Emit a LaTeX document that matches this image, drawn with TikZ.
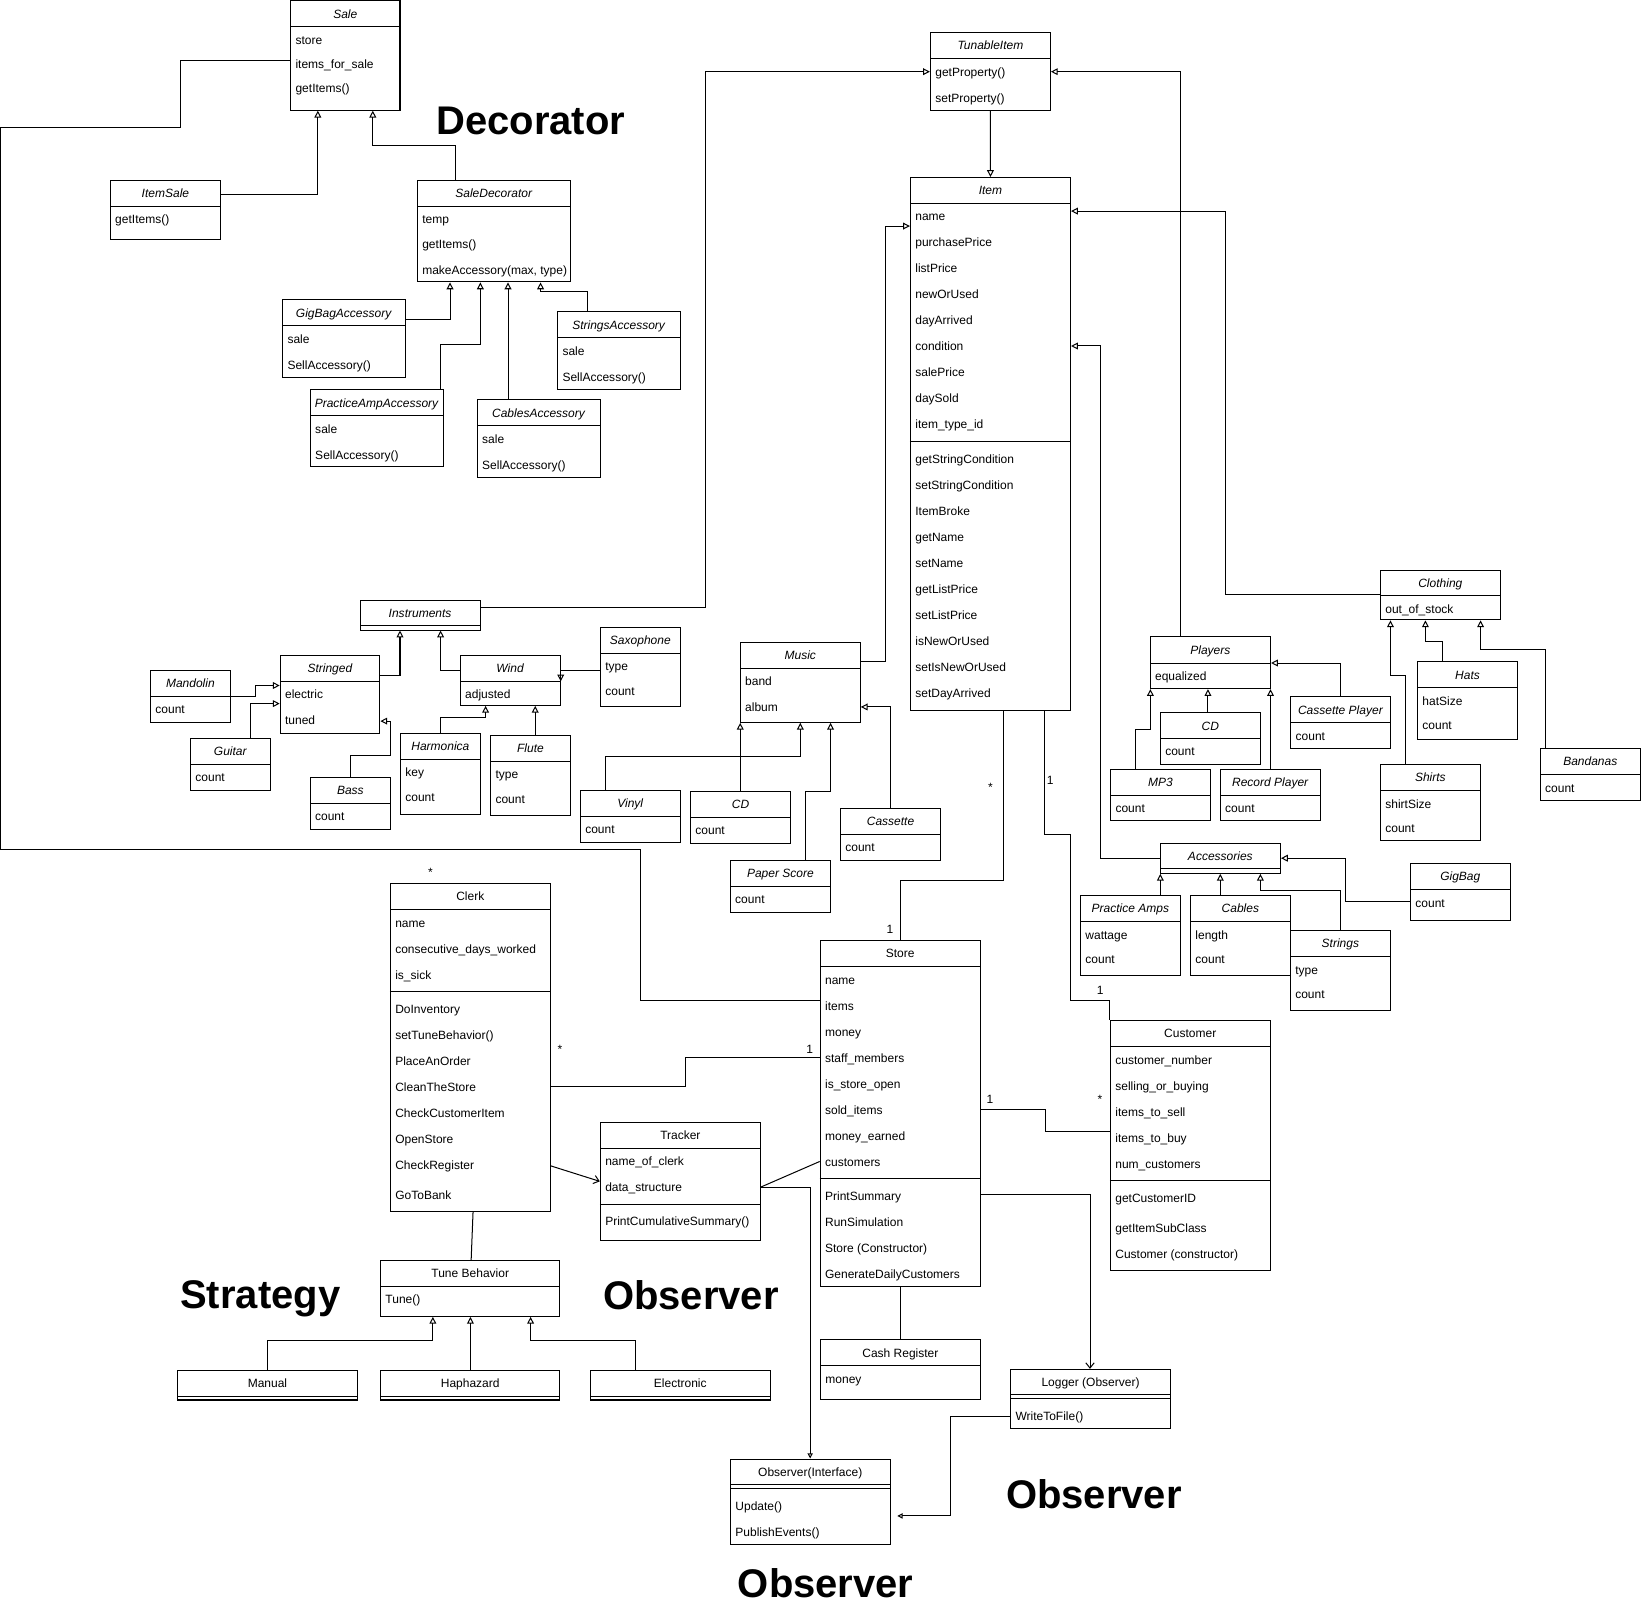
\documentclass[tikz,border=0pt]{standalone}
\usepackage{fontspec}
\setmainfont{Liberation Sans}
\usetikzlibrary{arrows.meta,fit}

% class box: name, x1, y1, x2, y2, header line y, title
\newcommand\cls[7]{%
  \node[cbox, fit={(#2,#3) (#4,#5)}] (#1) {};
  \draw[wire] (#2,#6) -- (#4,#6);
  \node[ctitle] at ({(#2+#4)/2},{(#3+#6)/2+4.4}) {#7};
}
% one member row: box name, row centre y, text
\newcommand\rw[3]{\node[crow, xshift=5pt] at (#1.west |- 0,#2+4.4) {#3};}
% compartment separator
\newcommand\sepl[2]{\draw[wire] (#1.west |- 0,#2) -- (#1.east |- 0,#2);}

\begin{document}
\begin{tikzpicture}[x=1pt,y=-1pt,
  wire/.style={line width=0.96pt},
  cbox/.style={draw, line width=0.96pt, fill=white, inner sep=0pt},
  ctitle/.style={anchor=base, inner sep=0pt, font=\fontsize{11.47pt}{13pt}\selectfont},
  crow/.style={anchor=base west, inner sep=0pt, font=\fontsize{11.47pt}{13pt}\selectfont},
  lbl/.style={anchor=base, inner sep=0pt, font=\fontsize{11.47pt}{13pt}\selectfont},
  pname/.style={anchor=base, inner sep=0pt, font=\fontsize{38.2pt}{40pt}\selectfont\bfseries},
  gen/.style={wire, -{Triangle[open,length=6.5pt,width=6.5pt]}},
  gensmall/.style={wire, -{Triangle[open,length=5pt,width=5pt]}},
  dep/.style={wire, -{Straight Barb[length=5pt,width=8pt]}},
]
\fill[white] (0,0) rectangle (1568,1539.3);
\useasboundingbox (0,0) rectangle (1568,1539.3);

% ---------------- Decorator ----------------
\cls{sale}{277.7}{0.7}{382.2}{105.3}{25.2}{\textit{Sale}}
\rw{sale}{37.8}{store}
\rw{sale}{61}{items\_for\_sale}
\rw{sale}{83.8}{getItems()}

\cls{itemsale}{105.4}{172}{210.7}{229.2}{196.9}{\textit{ItemSale}}
\rw{itemsale}{209.5}{getItems()}

\cls{saledec}{398.8}{172}{545.1}{269.4}{196.9}{\textit{SaleDecorator}}
\rw{saledec}{209.5}{temp}
\rw{saledec}{232.7}{getItems()}
\rw{saledec}{257.5}{makeAccessory(max, type)}

\cls{gigacc}{270}{286.5}{387.3}{360.7}{311}{\textit{GigBagAccessory}}
\rw{gigacc}{324}{sale}
\rw{gigacc}{348.8}{SellAccessory()}

\cls{stracc}{532.8}{298}{650}{372}{322.6}{\textit{StringsAccessory}}
\rw{stracc}{335.5}{sale}
\rw{stracc}{360}{SellAccessory()}

\cls{ampacc}{296.5}{372.3}{423.6}{446.2}{396.8}{\textit{PracticeAmpAccessory}}
\rw{ampacc}{409.8}{sale}
\rw{ampacc}{434.7}{SellAccessory()}

\cls{cabacc}{456}{381.8}{573.7}{455.8}{406.4}{\textit{CablesAccessory}}
\rw{cabacc}{419.3}{sale}
\rw{cabacc}{444.2}{SellAccessory()}

% ---------------- Items ----------------
\cls{tun}{889}{31}{1003.7}{105.5}{55.6}{\textit{TunableItem}}
\rw{tun}{68.6}{getProperty()}
\rw{tun}{93.2}{setProperty()}

\cls{itm}{869.9}{169.6}{1022.9}{678.7}{194.2}{\textit{Item}}
\foreach \t [count=\i from 0] in {name,purchasePrice,listPrice,newOrUsed,dayArrived,condition,salePrice,daySold,item\_type\_id}
  {\rw{itm}{206.6+24.85*\i}{\t}}
\sepl{itm}{421.8}
\foreach \t [count=\i from 0] in {getStringCondition,setStringCondition,ItemBroke,getName,setName,getListPrice,setListPrice,isNewOrUsed,setIsNewOrUsed,setDayArrived}
  {\rw{itm}{438.3+24.85*\i}{\t}}

% Instruments
\cls{instr}{344}{573.6}{458.8}{602}{598}{\textit{Instruments}}
\cls{stringed}{267.7}{626}{363}{700.7}{651}{\textit{Stringed}}
\rw{stringed}{663.4}{electric}
\rw{stringed}{688.2}{tuned}
\cls{mand}{143.8}{640.5}{220}{690}{665.3}{\textit{Mandolin}}
\rw{mand}{677.7}{count}
\cls{guitar}{182}{705.5}{258.5}{755}{730.3}{\textit{Guitar}}
\rw{guitar}{742.7}{count}
\cls{bass}{296.4}{742.7}{373.2}{792.4}{767.5}{\textit{Bass}}
\rw{bass}{779.9}{count}
\cls{wind}{439.8}{626}{535.3}{674}{651}{\textit{Wind}}
\rw{wind}{663.4}{adjusted}
\cls{sax}{573.7}{599.4}{650}{675.5}{624.3}{\textit{Saxophone}}
\rw{sax}{636.7}{type}
\rw{sax}{660.5}{count}
\cls{harm}{382.6}{700.7}{459}{778}{725.5}{\textit{Harmonica}}
\rw{harm}{737.9}{key}
\rw{harm}{761.5}{count}
\cls{flute}{468.8}{702.6}{545}{779}{727.4}{\textit{Flute}}
\rw{flute}{739.8}{type}
\rw{flute}{763.4}{count}

% Music
\cls{music}{707.3}{613.7}{822}{690.2}{638.6}{\textit{Music}}
\rw{music}{651}{band}
\rw{music}{675.8}{album}
\cls{vinyl}{554.5}{755}{650.2}{804.8}{780}{\textit{Vinyl}}
\rw{vinyl}{792.4}{count}
\cls{cdm}{659.8}{756}{755.6}{805.8}{781}{\textit{CD}}
\rw{cdm}{793.3}{count}
\cls{cass}{803}{772.3}{898.9}{822}{797.2}{\textit{Cassette}}
\rw{cass}{809.6}{count}
\cls{paper}{697.8}{822}{793.6}{871.7}{846.9}{\textit{Paper Score}}
\rw{paper}{859.3}{count}

% Players
\cls{players}{1099}{608.6}{1214}{658}{633.5}{\textit{Players}}
\rw{players}{645.9}{equalized}
\cls{cdp}{1108.7}{680.8}{1204.4}{730.4}{705.5}{\textit{CD}}
\rw{cdp}{717.9}{count}
\cls{mp3}{1061.2}{735.1}{1156.5}{784.4}{760}{\textit{MP3}}
\rw{mp3}{772.4}{count}
\cls{recp}{1166}{735.1}{1261.7}{784.4}{760}{\textit{Record Player}}
\rw{recp}{772.4}{count}
\cls{casp}{1233.3}{665.8}{1328.6}{715}{690.6}{\textit{Cassette Player}}
\rw{casp}{703}{count}

% Clothing
\cls{cloth}{1319}{544.7}{1433.5}{592.3}{569.2}{\textit{Clothing}}
\rw{cloth}{581.6}{out\_of\_stock}
\cls{hats}{1354.4}{632.5}{1450}{706.6}{656.9}{\textit{Hats}}
\rw{hats}{669.8}{hatSize}
\rw{hats}{692.6}{count}
\cls{shirts}{1319}{730.4}{1414.4}{802.8}{755.2}{\textit{Shirts}}
\rw{shirts}{767.8}{shirtSize}
\rw{shirts}{790.6}{count}
\cls{band}{1471.7}{715}{1567.4}{764.8}{739.9}{\textit{Bandanas}}
\rw{band}{752.4}{count}

% Accessories
\cls{acc}{1108.6}{805.5}{1223.5}{834.5}{830}{\textit{Accessories}}
\cls{pamps}{1032.4}{855.5}{1127.7}{931.9}{880.3}{\textit{Practice Amps}}
\rw{pamps}{893.4}{wattage}
\rw{pamps}{916}{count}
\cls{cables}{1137.5}{855.5}{1232.9}{931.9}{880.3}{\textit{Cables}}
\rw{cables}{893.4}{length}
\rw{cables}{916}{count}
\cls{strings}{1232.9}{888.9}{1328.5}{965.3}{913.7}{\textit{Strings}}
\rw{strings}{926.8}{type}
\rw{strings}{949.4}{count}
\cls{gigbag}{1347.7}{824.9}{1443}{879.4}{849.7}{\textit{GigBag}}
\rw{gigbag}{862.5}{count}

% ---------------- Store side ----------------
\cls{clerk}{373}{843.9}{525.8}{1157.5}{868.8}{Clerk}
\rw{clerk}{881.8}{name}
\rw{clerk}{906.3}{consecutive\_days\_worked}
\rw{clerk}{931.2}{is\_sick}
\sepl{clerk}{947.3}
\foreach \t [count=\i from 0] in {DoInventory,setTuneBehavior(),PlaceAnOrder,CleanTheStore,CheckCustomerItem,OpenStore,CheckRegister}
  {\rw{clerk}{963.7+24.85*\i}{\t}}
\rw{clerk}{1141.4}{GoToBank}

\cls{store}{783.7}{898.5}{936.6}{1229.5}{923.3}{Store}
\foreach \t [count=\i from 0] in {name,items,money,staff\_members,is\_store\_open,sold\_items,money\_earned,customers}
  {\rw{store}{936+24.85*\i}{\t}}
\sepl{store}{1126.4}
\foreach \t [count=\i from 0] in {PrintSummary,RunSimulation,Store (Constructor),GenerateDailyCustomers}
  {\rw{store}{1143+24.85*\i}{\t}}

\cls{tracker}{573.6}{1072.5}{726.6}{1185}{1097}{Tracker}
\rw{tracker}{1109.7}{name\_of\_clerk}
\rw{tracker}{1134.5}{data\_structure}
\sepl{tracker}{1150.7}
\rw{tracker}{1166.9}{PrintCumulativeSummary()}

\cls{tune}{363.6}{1204.3}{535}{1257.8}{1229}{Tune Behavior}
\rw{tune}{1241.4}{Tune()}
\cls{manual}{169.6}{1309.4}{341.5}{1337.7}{1333.9}{Manual}
\cls{hap}{363.6}{1309.4}{535}{1337.7}{1333.9}{Haphazard}
\cls{elec}{564}{1309.4}{736}{1337.7}{1333.9}{Electronic}

\cls{cash}{784}{1280}{936.6}{1337}{1304.6}{Cash Register}
\rw{cash}{1317.3}{money}

\cls{logger}{965.6}{1308.4}{1118.5}{1365.3}{1332.9}{Logger (Observer)}
\sepl{logger}{1336.7}
\rw{logger}{1353.2}{WriteToFile()}

\cls{obs}{698}{1394.1}{850.4}{1475.7}{1418.6}{Observer(Interface)}
\sepl{obs}{1422.4}
\rw{obs}{1439}{Update()}
\rw{obs}{1463.7}{PublishEvents()}

\cls{cust}{1061}{974.9}{1213.6}{1213.5}{999.7}{Customer}
\foreach \t [count=\i from 0] in {customer\_number,selling\_or\_buying,items\_to\_sell,items\_to\_buy,num\_customers}
  {\rw{cust}{1012.5+24.85*\i}{\t}}
\sepl{cust}{1127.5}
\rw{cust}{1144.3}{getCustomerID}
\rw{cust}{1173}{getItemSubClass}
\rw{cust}{1197.8}{Customer (constructor)}

% ---------------- connectors ----------------
% decorator
\draw[wire] (sale.west |- 0,57.6) -| (172.3,122) -| (0.6,812) -| (612,956) -- (store.west |- 0,956);
\draw[gen] (itemsale.east |- 0,186.3) -| (sale.south -| 303.7,0);
\draw[gen] (saledec.north -| 435.5,0) |- (356.2,138.6) -- (sale.south -| 356.2,0);
\draw[gen] (gigacc.east |- 0,304.9) -| (saledec.south -| 430,0);
\draw[gen] (ampacc.north -| 421,0) |- (459,329.4) -- (saledec.south -| 459,0);
\draw[gen] (cabacc.north -| 485.4,0) -- (saledec.south -| 485.4,0);
\draw[gen] (stracc.north -| 561.8,0) |- (516.5,279) -- (saledec.south -| 516.5,0);

% item hierarchy
\draw[gen] (tun.south) -- (itm.north);
\draw[gen] (instr.east |- 0,580.6) -| (674,68.5) -- (tun.west |- 0,68.5);
\draw[gen] (players.north -| 1127.5,0) |- (tun.east |- 0,68.5);
\draw[gen] (music.east |- 0,632.5) -| (846,216) -- (itm.west |- 0,216);
\draw[gen] (cloth.west |- 0,568.5) -| (1170.8,201.7) -- (itm.east |- 0,201.7);
\draw[gen] (acc.west |- 0,820) -| (1051.6,330.6) -- (itm.east |- 0,330.6);

\draw[gen] (shirts.north -| 1342.8,0) |- (1328.6,645.3) -- (cloth.south -| 1328.6,0);
\draw[gen] (hats.north -| 1378,0) |- (1362,612.7) -- (cloth.south -| 1362,0);
\draw[gen] (band.north -| 1476.7,0) |- (1414.7,620.9) -- (cloth.south -| 1414.7,0);

\draw[gen] (mp3.north -| 1084.6,0) |- (1099.2,696.6) -- (players.south -| 1099.2,0);
\draw[gen] (cdp.north -| 1154.2,0) -- (players.south -| 1154.2,0);
\draw[gen] (recp.north -| 1214,0) -- (players.south -| 1214,0);
\draw[gen] (casp.north -| 1280.8,0) |- (players.east |- 0,633.5);

\draw[gen] (pamps.north -| 1108.7,0) -- (acc.south -| 1108.7,0);
\draw[gen] (cables.north -| 1166,0) -- (acc.south -| 1166,0);
\draw[gen] (strings.north -| 1280.4,0) |- (1204.3,850.4) -- (acc.south -| 1204.3,0);
\draw[gen] (gigbag.west |- 0,861.2) -| (1285.6,820) -- (acc.east |- 0,820);

\draw[gen] (stringed.east |- 0,645) -| (instr.south -| 382.2,0);
\draw[gen] (wind.west |- 0,640.5) -| (instr.south -| 421,0);
\draw[gen] (mand.east |- 0,665.3) -| (244,655) -- (stringed.west |- 0,655);
\draw[gen] (guitar.north -| 239.3,0) |- (stringed.west |- 0,672.3);
\draw[gen] (bass.north -| 334.8,0) |- (373.2,722) |- (stringed.east |- 0,689);
\draw[gen] (sax.west |- 0,640.5) -| (wind.east |- 0,651);
\draw[gen] (harm.north -| 421,0) |- (464,685.4) -- (wind.south -| 464,0);
\draw[gen] (flute.north -| 511.4,0) -- (wind.south -| 511.4,0);

\draw[gen] (vinyl.north -| 578.6,0) |- (764.7,723) -- (music.south -| 764.7,0);
\draw[gen] (cdm.north -| 707.3,0) -- (music.south -| 707.3,0);
\draw[gen] (paper.north -| 769.5,0) |- (793.6,756) -- (music.south -| 793.6,0);
\draw[gen] (cass.north -| 850.7,0) |- (music.east |- 0,675.5);

% associations
\draw[wire] (itm.south -| 959,0) |- (860.5,841) -- (store.north -| 860.5,0);
\draw[wire] (itm.south -| 998,0) |- (1022.6,797) |- (1060.6,955.8) -- (cust.north -| 1060.6,0);
\draw[wire] (clerk.south -| 452,0) -- (tune.north -| 450.2,0);
\draw[gen] (manual.north -| 255.3,0) |- (413.6,1280.7) -- (tune.south -| 413.6,0);
\draw[gen] (hap.north -| 449.5,0) -- (tune.south -| 449.5,0);
\draw[gen] (elec.north -| 607.2,0) |- (507,1280.7) -- (tune.south -| 507,0);
\draw[wire] (clerk.east |- 0,1038) -| (655,1010.4) -- (store.west |- 0,1010.4);
\draw[dep] (clerk.east |- 0,1114) -- (tracker.west |- 0,1128.8);
\draw[wire] (store.west |- 0,1109.8) -- (tracker.east |- 0,1134.2);
\draw[gensmall] (tracker.east |- 0,1134.2) -| (obs.north -| 774.1,0);
\draw[wire] (store.south -| 860.3,0) -- (cash.north -| 860.3,0);
\draw[dep] (store.east |- 0,1141.8) -| (logger.north -| 1041.5,0);
\coordinate (obsend) at (857.4,1448.5);
\draw[gensmall] (logger.west |- 0,1353.2) -| (908,1448.5) -- (obsend);
\draw[wire] (store.east |- 0,1060.2) -| (998.7,1080.8) -- (cust.west |- 0,1080.8);

% multiplicities
\node[lbl] at (946.4,756.6) {*};
\node[lbl] at (1003.4,749.4) {1};
\node[lbl] at (850.3,892.1) {1};
\node[lbl] at (1051.2,950.1) {1};
\node[lbl] at (1051,1054.6) {*};
\node[lbl] at (946,1054.1) {1};
\node[lbl] at (411.4,837.9) {*};
\node[lbl] at (535,1006.6) {*};
\node[lbl] at (773.6,1006.7) {1};

% pattern names
\node[pname] at (507.2,128.8) {Decorator};
\node[pname] at (248.7,1249.9) {Strategy};
\node[pname] at (660.2,1251) {Observer};
\node[pname] at (1045.2,1441) {Observer};
\node[pname] at (789,1526.6) {Observer};
\end{tikzpicture}
\end{document}
